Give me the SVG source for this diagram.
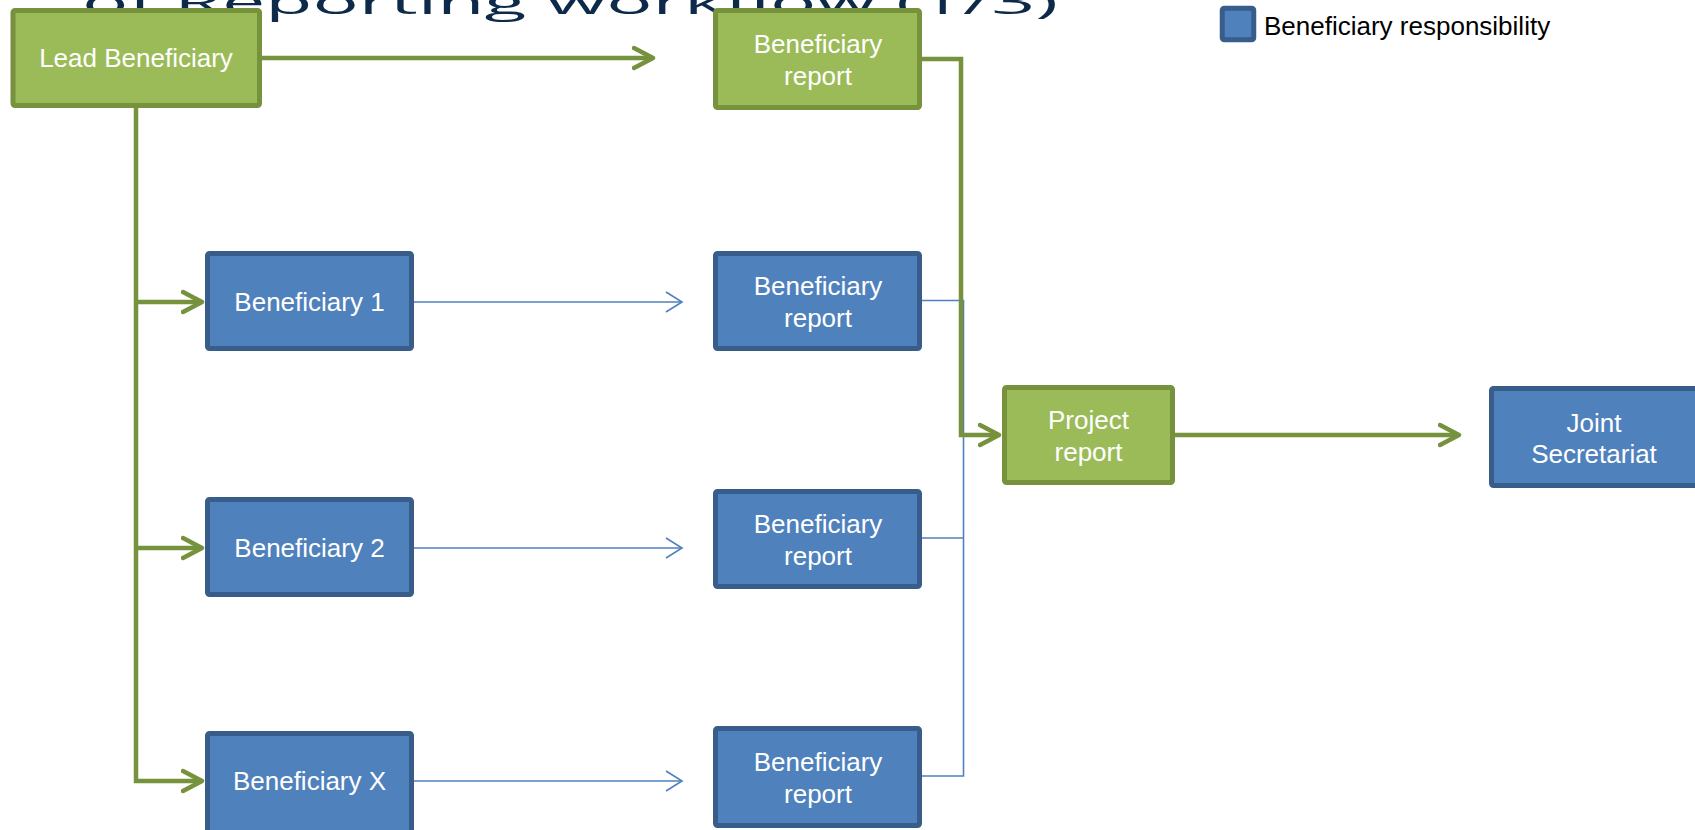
<svg xmlns="http://www.w3.org/2000/svg" width="1695" height="830" viewBox="0 0 1695 830">
<style>
.g{fill:#9bbb59;stroke:#76923c;stroke-width:5}
.b{fill:#4f81bd;stroke:#385d8a;stroke-width:5}
.t{font-family:"Liberation Sans",Arial,sans-serif;font-size:26px;fill:#ffffff;text-anchor:middle}
.gl{fill:none;stroke:#76923c;stroke-width:4.5;stroke-linejoin:miter}
.bl{fill:none;stroke:#4f81bd;stroke-width:1.6}
</style>
<defs>
<marker id="ga" markerUnits="userSpaceOnUse" viewBox="0 0 26 26" markerWidth="26" markerHeight="26" refX="21" refY="13" orient="auto">
<path d="M2,3 L21,13 L2,23" fill="none" stroke="#76923c" stroke-width="4.5" stroke-linecap="round" stroke-linejoin="round"/>
</marker>
<marker id="ba" markerUnits="userSpaceOnUse" viewBox="0 0 20 24" markerWidth="20" markerHeight="24" refX="18" refY="12" orient="auto">
<path d="M2,2 L18,12 L2,22" fill="none" stroke="#4f81bd" stroke-width="1.6"/>
</marker>
</defs>
<rect width="1695" height="830" fill="#ffffff"/>
<text id="title" transform="translate(82,14) scale(1,0.44)" x="0" y="0" font-family="'Open Sans','Liberation Sans',sans-serif" font-size="76" fill="#0d2a4b" textLength="976" lengthAdjust="spacingAndGlyphs">of Reporting workflow (1/3)</text>
<g id="connectors">
<path class="bl" d="M414,302 H682" marker-end="url(#ba)"/>
<path class="bl" d="M414,548 H682" marker-end="url(#ba)"/>
<path class="bl" d="M414,781 H682" marker-end="url(#ba)"/>
<path class="bl" d="M922,300.5 H963.5 V776 H922"/>
<path class="bl" d="M922,538 H963.5"/>
<path class="bl" d="M963.5,435 H1000"/>
<path class="gl" d="M262,58 H653" marker-end="url(#ga)"/>
<path class="gl" d="M136,108 V781 H202" marker-end="url(#ga)"/>
<path class="gl" d="M136,302 H202" marker-end="url(#ga)"/>
<path class="gl" d="M136,548 H202" marker-end="url(#ga)"/>
<path class="gl" d="M922,59 H961 V435 H999" marker-end="url(#ga)"/>
<path class="gl" d="M1175,435 H1459" marker-end="url(#ga)"/>
</g>
<g id="lead">
<rect class="g" x="13" y="10.5" width="246.5" height="95" rx="2"/>
<text class="t" x="136" y="66.5">Lead Beneficiary</text>
</g>
<g id="report-lead">
<rect class="g" x="715.5" y="10.5" width="204" height="97" rx="2"/>
<text class="t" x="818" y="53">Beneficiary</text>
<text class="t" x="818" y="84.5">report</text>
</g>
<g id="ben1">
<rect class="b" x="207.5" y="253.5" width="204" height="95" rx="2"/>
<text class="t" x="309.5" y="311">Beneficiary 1</text>
</g>
<g id="report1">
<rect class="b" x="715.5" y="253.5" width="204" height="95" rx="2"/>
<text class="t" x="818" y="295">Beneficiary</text>
<text class="t" x="818" y="326.5">report</text>
</g>
<g id="ben2">
<rect class="b" x="207.5" y="499.5" width="204" height="95" rx="2"/>
<text class="t" x="309.5" y="557">Beneficiary 2</text>
</g>
<g id="report2">
<rect class="b" x="715.5" y="491.5" width="204" height="95" rx="2"/>
<text class="t" x="818" y="533">Beneficiary</text>
<text class="t" x="818" y="564.5">report</text>
</g>
<g id="benX">
<rect class="b" x="207.5" y="733.5" width="204" height="100" rx="2"/>
<text class="t" x="309.5" y="790">Beneficiary X</text>
</g>
<g id="reportX">
<rect class="b" x="715.5" y="728.5" width="204" height="97" rx="2"/>
<text class="t" x="818" y="771">Beneficiary</text>
<text class="t" x="818" y="802.5">report</text>
</g>
<g id="project">
<rect class="g" x="1004.5" y="387.5" width="168" height="95" rx="2"/>
<text class="t" x="1088.5" y="429">Project</text>
<text class="t" x="1088.5" y="461">report</text>
</g>
<g id="js">
<rect class="b" x="1491.5" y="388.5" width="215" height="97" rx="2"/>
<text class="t" x="1594" y="431.5">Joint</text>
<text class="t" x="1594" y="462.5">Secretariat</text>
</g>
<g id="legend">
<rect class="b" x="1222.25" y="8.25" width="31.5" height="31.5" rx="2" stroke-width="4.5"/>
<text x="1264" y="35" font-family="'Liberation Sans',Arial,sans-serif" font-size="26" fill="#000000">Beneficiary responsibility</text>
</g>
</svg>
